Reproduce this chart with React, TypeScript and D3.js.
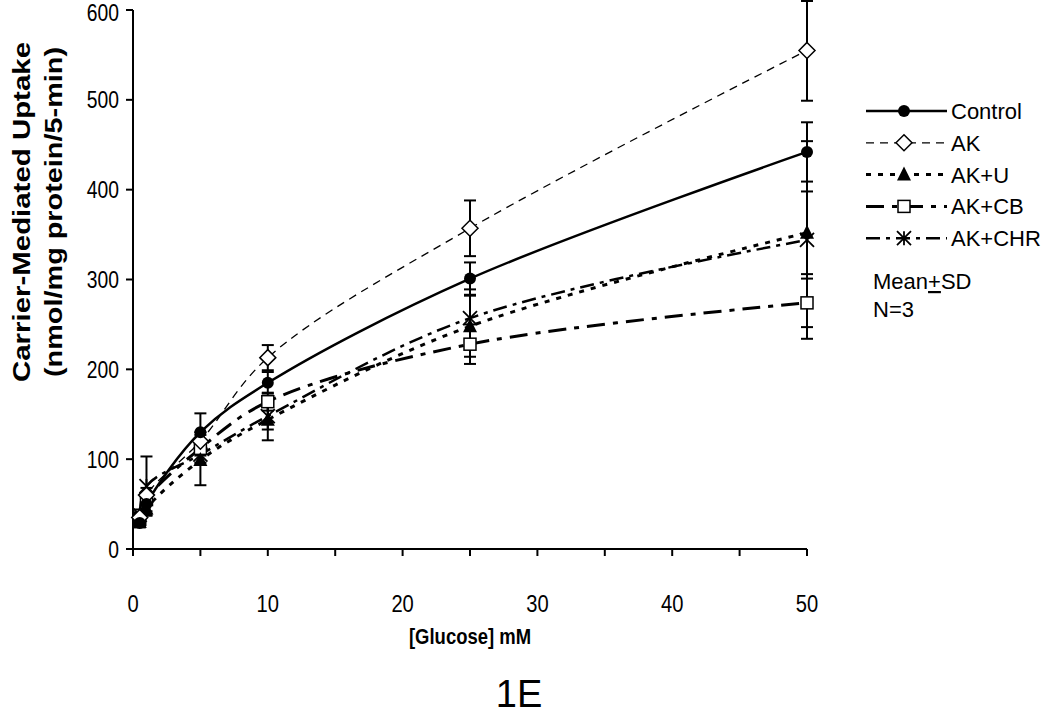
import React, { useRef, useEffect } from 'react';
import * as d3 from 'd3';

// glucose concentrations (mM)
const glucose = [0.5, 1, 5, 10, 25, 50];

// mean uptake per series
const control = [29, 50, 130, 185, 301, 442];
const ak = [35, 60, 120, 213, 357, 555];
const akU = [30, 45, 99, 144, 248, 352];
const akCB = [33, 55, 112, 164, 228, 274];
const akCHR = [38, 70, 105, 148, 257, 344];

// standard deviations
const controlSD = [5, 8, 21, 12, 18, 33];
const akSD = [6, 8, 10, 14, 31, 56];
const akUSD = [5, 7, 28, 23, 34, 46];
const akCBSD = [5, 6, 8, 10, 22, 27];
const akCHRSD = [6, 33, 9, 15, 32, 110];

const seriesNames = ['Control', 'AK', 'AK+U', 'AK+CB', 'AK+CHR'];
const yTicks = [0, 100, 200, 300, 400, 500, 600];
const xTicks = [0, 10, 20, 30, 40, 50];
const xMinorTicks = [0, 5, 10, 15, 20, 25, 30, 35, 40, 45, 50];

const series = [
  { name: seriesNames[0], values: control, sd: controlSD, dash: null, width: 2.5, marker: 'circle' },
  { name: seriesNames[1], values: ak, sd: akSD, dash: '8 6', width: 1.3, marker: 'diamond' },
  { name: seriesNames[2], values: akU, sd: akUSD, dash: '5 7', width: 3, marker: 'triangle' },
  { name: seriesNames[3], values: akCB, sd: akCBSD, dash: '18 8 5 8', width: 3, marker: 'square' },
  { name: seriesNames[4], values: akCHR, sd: akCHRSD, dash: '14 6 4 6', width: 2.5, marker: 'star' },
];

const W = 1050;
const H = 717;
const font = '"Liberation Sans", Arial, sans-serif';

function drawMarker(g: any, type: string, cx: number, cy: number) {
  if (type === 'circle') {
    g.append('circle').attr('cx', cx).attr('cy', cy).attr('r', 6).attr('fill', '#000');
  } else if (type === 'diamond') {
    g.append('path')
      .attr('d', `M${cx},${cy - 8}L${cx + 8},${cy}L${cx},${cy + 8}L${cx - 8},${cy}Z`)
      .attr('fill', '#fff').attr('stroke', '#000').attr('stroke-width', 1.5);
  } else if (type === 'triangle') {
    g.append('path')
      .attr('d', `M${cx},${cy - 8}L${cx + 7},${cy + 6}L${cx - 7},${cy + 6}Z`)
      .attr('fill', '#000');
  } else if (type === 'square') {
    g.append('rect').attr('x', cx - 6).attr('y', cy - 6).attr('width', 12).attr('height', 12)
      .attr('fill', '#fff').attr('stroke', '#000').attr('stroke-width', 1.5);
  } else if (type === 'star') {
    const s = 7;
    g.append('path')
      .attr('d', `M${cx - s},${cy - s}L${cx + s},${cy + s}M${cx + s},${cy - s}L${cx - s},${cy + s}M${cx},${cy - s}L${cx},${cy + s}`)
      .attr('stroke', '#000').attr('stroke-width', 1.8).attr('fill', 'none');
  }
}

// narrow-looking label: scaled horizontally around its anchor
function narrowText(g: any, tx: number, ty: number, anchor: string, size: number, txt: string, bold = false) {
  const t = g.append('g').attr('transform', `translate(${tx},${ty}) scale(0.84,1)`);
  t.append('text').attr('x', 0).attr('y', 0)
    .attr('text-anchor', anchor).attr('font-family', font).attr('font-size', size)
    .attr('font-weight', bold ? 'bold' : 'normal')
    .text(txt);
}

const App: React.FC = () => {
  const svgRef = useRef<SVGSVGElement>(null);

  useEffect(() => {
    if (!svgRef.current) return;
    const svg = d3.select(svgRef.current);
    svg.selectAll('*').remove();

    const x = d3.scaleLinear().domain([0, 50]).range([133, 807]);
    const y = d3.scaleLinear().domain([0, 600]).range([549, 10]);

    // axes
    const axes = svg.append('g');
    axes.append('line').attr('x1', x(0)).attr('x2', x(0)).attr('y1', y(600)).attr('y2', y(0))
      .attr('stroke', '#000').attr('stroke-width', 2);
    axes.append('line').attr('x1', x(0)).attr('x2', x(50)).attr('y1', y(0)).attr('y2', y(0))
      .attr('stroke', '#000').attr('stroke-width', 2);

    yTicks.forEach((t) => {
      axes.append('line').attr('x1', x(0) - 7).attr('x2', x(0)).attr('y1', y(t)).attr('y2', y(t))
        .attr('stroke', '#000').attr('stroke-width', 2);
      // keep the top label inside the frame
      narrowText(axes, x(0) - 14, Math.max(y(t) + 8.5, 21), 'end', 23, String(t));
    });
    xMinorTicks.forEach((t) => {
      axes.append('line').attr('x1', x(t)).attr('x2', x(t)).attr('y1', y(0)).attr('y2', y(0) + 7)
        .attr('stroke', '#000').attr('stroke-width', 2);
    });
    xTicks.forEach((t) => {
      narrowText(axes, x(t), 612, 'middle', 24, String(t));
    });

    // axis titles
    narrowText(svg, 470, 644, 'middle', 22, '[Glucose] mM', true);

    const yt = svg.append('g').attr('transform', 'translate(0,212) rotate(-90)');
    yt.append('text').attr('x', 0).attr('y', 30).attr('text-anchor', 'middle')
      .attr('font-family', font).attr('font-weight', 'bold').attr('font-size', 24)
      .attr('textLength', 340).attr('lengthAdjust', 'spacingAndGlyphs')
      .text('Carrier-Mediated Uptake');
    yt.append('text').attr('x', 0).attr('y', 62).attr('text-anchor', 'middle')
      .attr('font-family', font).attr('font-weight', 'bold').attr('font-size', 24)
      .attr('textLength', 330).attr('lengthAdjust', 'spacingAndGlyphs')
      .text('(nmol/mg protein/5-min)');

    svg.append('text').attr('x', 519).attr('y', 707).attr('text-anchor', 'middle')
      .attr('font-family', font).attr('font-size', 38).text('1E');

    const line = d3.line<number>()
      .x((_, i) => x(glucose[i]))
      .y((d) => y(d))
      .curve(d3.curveCatmullRom.alpha(0.5));

    const plot = svg.append('g');

    // error bars
    series.forEach((s) => {
      s.values.forEach((v, i) => {
        const cx = x(glucose[i]);
        const hi = v + s.sd[i];
        const lo = v - s.sd[i];
        const eb = plot.append('g').attr('stroke', '#000').attr('stroke-width', 2);
        eb.append('line').attr('x1', cx).attr('x2', cx).attr('y1', Math.max(1, y(hi))).attr('y2', y(lo));
        eb.append('line').attr('x1', cx - 6).attr('x2', cx + 6)
          .attr('y1', Math.max(1, y(hi))).attr('y2', Math.max(1, y(hi)));
        eb.append('line').attr('x1', cx - 6).attr('x2', cx + 6).attr('y1', y(lo)).attr('y2', y(lo));
      });
    });

    // lines
    series.slice().reverse().forEach((s) => {
      plot.append('path').attr('d', line(s.values) as string)
        .attr('fill', 'none').attr('stroke', '#000').attr('stroke-width', s.width)
        .attr('stroke-dasharray', s.dash);
    });

    // markers
    series.slice().reverse().forEach((s) => {
      const mg = plot.append('g');
      s.values.forEach((v, i) => drawMarker(mg, s.marker, x(glucose[i]), y(v)));
    });

    // legend
    const lg = svg.append('g');
    series.forEach((s, i) => {
      const ly = 111 + i * 31.8;
      lg.append('line').attr('x1', 866).attr('x2', 947).attr('y1', ly).attr('y2', ly)
        .attr('stroke', '#000').attr('stroke-width', s.width).attr('stroke-dasharray', s.dash);
      drawMarker(lg, s.marker, 904, ly);
      lg.append('text').attr('x', 951).attr('y', ly).attr('dy', '0.36em')
        .attr('font-family', font).attr('font-size', 22).text(s.name);
    });
    const note = lg.append('text').attr('x', 873).attr('y', 289)
      .attr('font-family', font).attr('font-size', 22);
    note.append('tspan').text('Mean');
    note.append('tspan').attr('text-decoration', 'underline').text('+');
    note.append('tspan').text('SD');
    lg.append('text').attr('x', 873).attr('y', 317)
      .attr('font-family', font).attr('font-size', 22).text('N=3');
  }, []);

  return (
    <svg
      ref={svgRef}
      width={W}
      height={H}
      style={{ position: 'absolute', left: 0, top: 0, background: '#fff' }}
    />
  );
};

export default App;
